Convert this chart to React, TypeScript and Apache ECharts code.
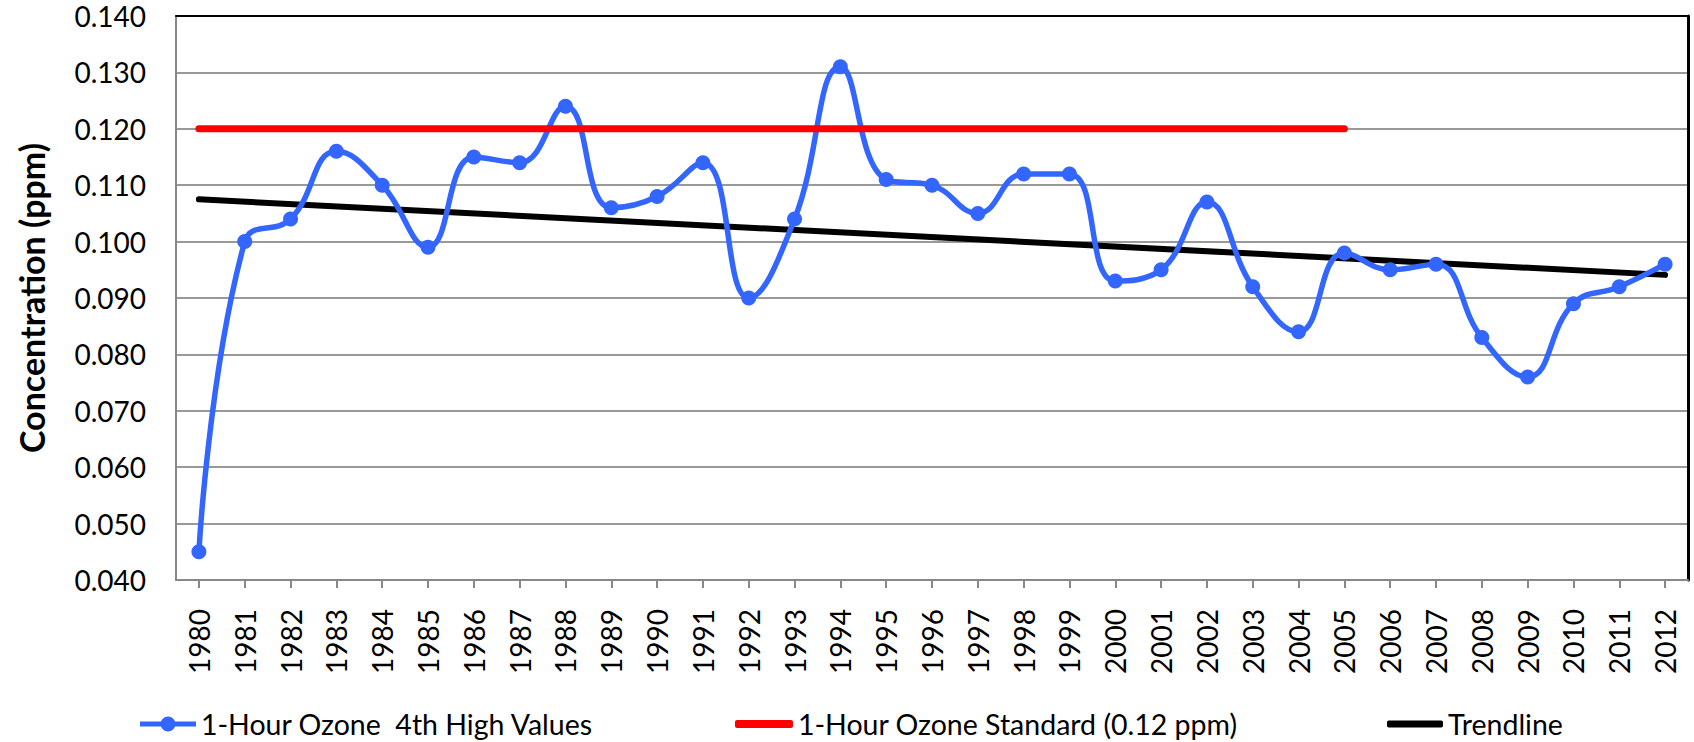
import React, { useEffect, useRef } from "react";
import * as echarts from "echarts";

const years = [
  "1980","1981","1982","1983","1984","1985","1986","1987","1988","1989",
  "1990","1991","1992","1993","1994","1995","1996","1997","1998","1999",
  "2000","2001","2002","2003","2004","2005","2006","2007","2008","2009",
  "2010","2011","2012",
];

const ozone4thHigh = [
  0.045, 0.100, 0.104, 0.116, 0.110, 0.099, 0.115, 0.114, 0.124, 0.106,
  0.108, 0.114, 0.090, 0.104, 0.131, 0.111, 0.110, 0.105, 0.112, 0.112,
  0.093, 0.095, 0.107, 0.092, 0.084, 0.098, 0.095, 0.096, 0.083, 0.076,
  0.089, 0.092, 0.096,
];

const standardValue = 0.12;
const standardStart = "1980";
const standardEnd = "2005";

const trendStart = { year: "1980", value: 0.1075 };
const trendEnd = { year: "2012", value: 0.0941 };

const yTicks = { min: 0.04, max: 0.14, interval: 0.01 };

const seriesNames = [
  "1-Hour Ozone  4th High Values",
  "1-Hour Ozone Standard (0.12 ppm)",
  "Trendline",
];

const FONT = "Lato, 'Open Sans', sans-serif";
const lineDotIcon =
  "path://M0,6H56V11H0Z M20.5,8.5A7.5,7.5 0 1,1 35.5,8.5A7.5,7.5 0 1,1 20.5,8.5Z";

export default function App() {
  const ref = useRef<HTMLDivElement>(null);

  useEffect(() => {
    if (!ref.current) return;
    const chart = echarts.init(ref.current, null, { renderer: "svg" });
    const legendText = { fontSize: 28.5, fontFamily: FONT, color: "#000", lineHeight: 30 };
    chart.setOption({
      animation: false,
      backgroundColor: "#fff",
      grid: { left: 176, right: 6, top: 16, bottom: 162, containLabel: false },
      legend: [
        {
          data: [{ name: seriesNames[0], icon: lineDotIcon }],
          left: 140,
          top: 709,
          padding: 0,
          itemWidth: 56,
          itemHeight: 15,
          itemGap: 5,
          textStyle: legendText,
        },
        {
          data: [{ name: seriesNames[1], icon: "roundRect" }],
          left: 735,
          top: 709,
          padding: 0,
          itemWidth: 58,
          itemHeight: 8,
          textStyle: legendText,
        },
        {
          data: [{ name: seriesNames[2], icon: "roundRect" }],
          left: 1387,
          top: 709,
          padding: 0,
          itemWidth: 56,
          itemHeight: 7,
          textStyle: legendText,
        },
      ],
      xAxis: [
        {
          type: "category",
          data: years,
          boundaryGap: true,
          axisLine: { show: true, lineStyle: { color: "#888", width: 2 } },
          axisTick: { show: true, alignWithLabel: true, length: 8, lineStyle: { color: "#888", width: 2 } },
          axisLabel: {
            rotate: 90,
            interval: 0,
            margin: 29,
            fontSize: 28,
            fontFamily: FONT,
            color: "#000",
          },
          splitLine: { show: false },
        },
        {
          type: "category",
          data: years,
          position: "top",
          axisLine: { show: true, lineStyle: { color: "#000", width: 2 } },
          axisTick: { show: false },
          axisLabel: { show: false },
          splitLine: { show: false },
        },
      ],
      yAxis: [
        {
          type: "value",
          min: yTicks.min,
          max: yTicks.max,
          interval: yTicks.interval,
          name: "Concentration (ppm)",
          nameLocation: "middle",
          nameGap: 128,
          nameTextStyle: {
            fontSize: 34,
            fontWeight: "bold",
            fontFamily: FONT,
            color: "#000",
          },
          axisLine: { show: true, lineStyle: { color: "#888", width: 2 } },
          axisTick: { show: false },
          axisLabel: {
            margin: 30,
            fontSize: 28,
            fontFamily: FONT,
            color: "#000",
            formatter: (v: number) => v.toFixed(3),
          },
          splitLine: { show: true, lineStyle: { color: "#999", width: 2 } },
        },
        {
          type: "value",
          min: yTicks.min,
          max: yTicks.max,
          interval: yTicks.interval,
          position: "right",
          axisLine: { show: true, lineStyle: { color: "#000", width: 3 } },
          axisTick: { show: false },
          axisLabel: { show: false },
          splitLine: { show: false },
        },
      ],
      series: [
        {
          name: seriesNames[2],
          type: "line",
          z: 2,
          data: [
            [trendStart.year, trendStart.value],
            [trendEnd.year, trendEnd.value],
          ],
          symbol: "none",
          lineStyle: { color: "#000", width: 6, cap: "round" },
          itemStyle: { color: "#000" },
        },
        {
          name: seriesNames[0],
          type: "line",
          z: 3,
          data: ozone4thHigh,
          smooth: 0.45,
          symbol: "circle",
          symbolSize: 15,
          showAllSymbol: true,
          lineStyle: { color: "#3366ff", width: 5.5 },
          itemStyle: { color: "#3366ff" },
        },
        {
          name: seriesNames[1],
          type: "line",
          z: 4,
          data: [
            [standardStart, standardValue],
            [standardEnd, standardValue],
          ],
          symbol: "none",
          lineStyle: { color: "#ff0000", width: 7, cap: "round" },
          itemStyle: { color: "#ff0000" },
        },
      ],
    });
    return () => chart.dispose();
  }, []);

  return (
    <div
      ref={ref}
      style={{ position: "fixed", left: 0, top: 0, width: 1694, height: 742 }}
    />
  );
}
